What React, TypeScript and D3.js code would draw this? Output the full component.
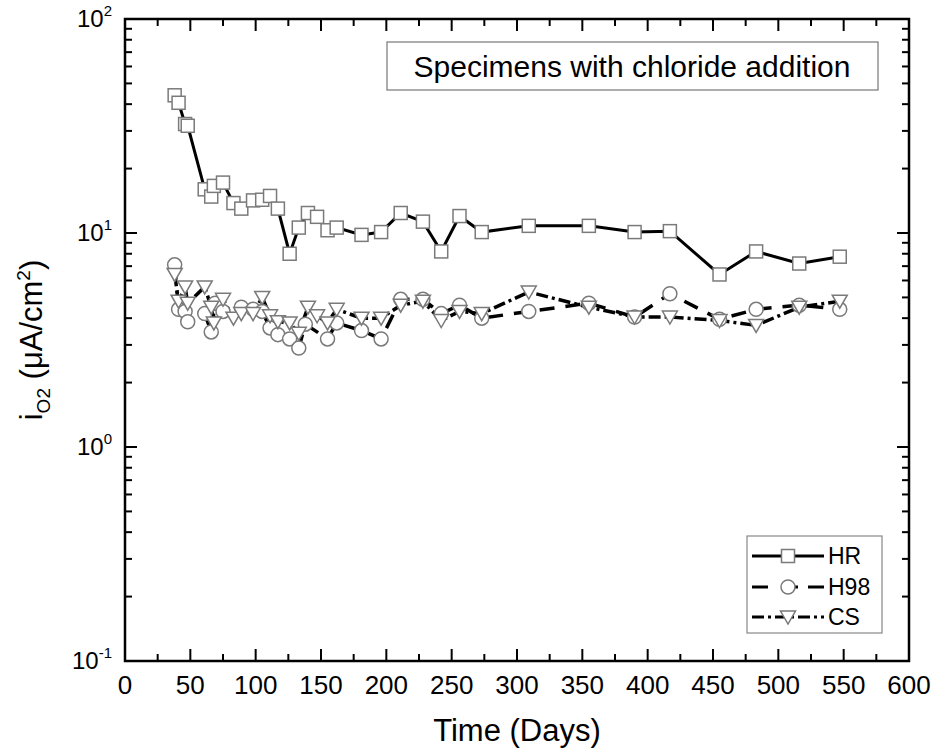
import React from 'react'
import * as d3 from 'd3'

// sampling days
const daysHR = [38, 41, 46, 48, 61, 66, 68, 75, 83, 89, 98, 105, 111, 117, 126, 133, 140, 147, 155, 162, 181, 196, 211, 228, 242, 256, 273, 309, 355, 390, 417, 455, 483, 516, 547]
const valuesHR = [44, 40.6, 32.3, 31.7, 16.0, 14.8, 16.6, 17.2, 13.8, 13.0, 14.2, 14.3, 14.9, 13.0, 8.0, 10.6, 12.4, 11.9, 10.3, 10.6, 9.8, 10.1, 12.4, 11.3, 8.2, 12.0, 10.1, 10.8, 10.8, 10.1, 10.2, 6.4, 8.2, 7.2, 7.75]

const daysH98 = [38, 41, 46, 48, 61, 66, 69, 75, 89, 98, 105, 111, 117, 126, 133, 138, 155, 162, 181, 196, 211, 228, 242, 256, 273, 309, 355, 390, 417, 455, 483, 516, 547]
const valuesH98 = [7.1, 4.4, 4.3, 3.85, 4.2, 3.45, 4.7, 4.3, 4.5, 4.4, 4.3, 3.6, 3.35, 3.2, 2.9, 3.75, 3.2, 3.8, 3.5, 3.2, 4.9, 4.9, 4.2, 4.6, 4.0, 4.3, 4.7, 4.05, 5.2, 3.95, 4.4, 4.6, 4.4]

const daysCS = [38, 41, 46, 48, 61, 66, 68, 75, 83, 89, 98, 105, 111, 117, 126, 133, 140, 147, 155, 162, 181, 196, 211, 228, 242, 256, 273, 309, 355, 390, 417, 455, 483, 516, 547]
const valuesCS = [6.4, 4.8, 5.6, 4.7, 5.6, 4.5, 3.8, 4.9, 4.0, 4.2, 4.2, 5.0, 4.1, 3.85, 3.8, 3.4, 4.5, 4.1, 3.8, 4.4, 4.0, 4.0, 4.6, 4.8, 3.9, 4.3, 4.2, 5.3, 4.5, 4.05, 4.05, 3.9, 3.7, 4.5, 4.8]

const xTicks = [0, 50, 100, 150, 200, 250, 300, 350, 400, 450, 500, 550, 600]
const yExponents = [-1, 0, 1, 2]
const seriesNames = ['HR', 'H98', 'CS']
const titleText = 'Specimens with chloride addition'

const left = 125, right = 909, top = 19, bottom = 661
const narrow = '"Liberation Sans Narrow", "Arial Narrow", sans-serif'
const regular = '"Liberation Sans", Arial, sans-serif'

const Marker = ({ kind, x, y }) => {
    const stroke = '#7a7a7a'
    if (kind === 'HR') return <rect x={x - 6.5} y={y - 6.5} width={13} height={13} fill="white" stroke={stroke} strokeWidth={1.5} />
    if (kind === 'H98') return <circle cx={x} cy={y} r={7} fill="white" stroke={stroke} strokeWidth={1.5} />
    return <path d={`M${x - 7.5},${y - 6} L${x + 7.5},${y - 6} L${x},${y + 7} Z`} fill="white" stroke={stroke} strokeWidth={1.5} />
}

const dashes = { HR: null, H98: '15,11', CS: '12,4,3,4' }
const legendDashes = { HR: null, H98: '16,18,12,10,18', CS: '12,4,3,4' }

export default function App() {
    const x = d3.scaleLinear().domain([0, 600]).range([left, right])
    const y = d3.scaleLog().domain([0.1, 100]).range([bottom, top])

    const line = d3.line().x(d => x(d[0])).y(d => y(d[1]))
    const series = [
        { name: 'HR', pts: daysHR.map((d, i) => [d, valuesHR[i]]) },
        { name: 'H98', pts: daysH98.map((d, i) => [d, valuesH98[i]]) },
        { name: 'CS', pts: daysCS.map((d, i) => [d, valuesCS[i]]) },
    ]

    // minor ticks for x (every 25) and y (2..9 per decade)
    const xMinor = d3.range(25, 600, 50)
    const yMinor = []
    for (let e = -1; e < 2; e++) for (let m = 2; m <= 9; m++) yMinor.push(m * Math.pow(10, e))

    const legendRows = [556, 587, 617]

    return (
        <svg width={934} height={755} style={{ position: 'absolute', left: 0, top: 0 }}>
            {/* ticks */}
            <g stroke="black" strokeWidth={2}>
                {xTicks.slice(1, -1).map(t => (
                    <g key={'xt' + t}>
                        <line x1={x(t)} x2={x(t)} y1={bottom} y2={bottom - 12} />
                        <line x1={x(t)} x2={x(t)} y1={top} y2={top + 12} />
                    </g>
                ))}
                {xMinor.map(t => (
                    <g key={'xm' + t}>
                        <line x1={x(t)} x2={x(t)} y1={bottom} y2={bottom - 7} />
                        <line x1={x(t)} x2={x(t)} y1={top} y2={top + 7} />
                    </g>
                ))}
                {yExponents.slice(1, -1).map(e => (
                    <g key={'yt' + e}>
                        <line x1={left} x2={left + 12} y1={y(Math.pow(10, e))} y2={y(Math.pow(10, e))} />
                        <line x1={right} x2={right - 12} y1={y(Math.pow(10, e))} y2={y(Math.pow(10, e))} />
                    </g>
                ))}
                {yMinor.map(v => (
                    <g key={'ym' + v}>
                        <line x1={left} x2={left + 7} y1={y(v)} y2={y(v)} />
                        <line x1={right} x2={right - 7} y1={y(v)} y2={y(v)} />
                    </g>
                ))}
            </g>
            <rect x={left} y={top} width={right - left} height={bottom - top} fill="none" stroke="black" strokeWidth={2.5} />

            {/* tick labels */}
            {xTicks.map(t => (
                <text key={'xl' + t} x={x(t)} y={bottom + 33} textAnchor="middle" fontFamily={narrow} fontSize={26}>{t}</text>
            ))}
            {yExponents.map(e => (
                <text key={'yl' + e} x={left - 13} y={y(Math.pow(10, e)) + 8} textAnchor="end" fontFamily={regular} fontSize={24}>
                    10<tspan dy={-11} fontSize={15}>{e}</tspan>
                </text>
            ))}

            {/* axis titles */}
            <text x={(left + right) / 2} y={bottom + 80} textAnchor="middle" fontFamily={narrow} fontSize={31}>Time (Days)</text>
            <text transform={`translate(42,${(top + bottom) / 2}) rotate(-90)`} textAnchor="middle" fontFamily={narrow} fontSize={31}>
                i<tspan dy={8} fontSize={19}>O2</tspan><tspan dy={-8}> (μA/cm</tspan><tspan dy={-12} fontSize={19}>2</tspan><tspan dy={12}>)</tspan>
            </text>

            {/* series */}
            {series.map(s => (
                <path key={s.name} d={line(s.pts)} fill="none" stroke="black" strokeWidth={s.name === 'HR' ? 3 : 3.5}
                    strokeDasharray={dashes[s.name] || undefined} />
            ))}
            {series.map(s => s.pts.map((p, i) => (
                <Marker key={s.name + i} kind={s.name} x={x(p[0])} y={y(p[1])} />
            )))}

            {/* title box */}
            <rect x={387} y={42} width={491} height={48} fill="white" stroke="#777" strokeWidth={1.2} />
            <text x={632} y={77} textAnchor="middle" fontFamily={regular} fontSize={30}>{titleText}</text>

            {/* legend */}
            <rect x={747} y={536} width={135} height={97} fill="white" stroke="#888" strokeWidth={1.2} />
            {seriesNames.map((n, i) => (
                <g key={'lg' + n}>
                    <line x1={752} x2={824} y1={legendRows[i]} y2={legendRows[i]} stroke="black" strokeWidth={3}
                        strokeDasharray={legendDashes[n] || undefined} />
                    <Marker kind={n} x={788} y={legendRows[i]} />
                    <text x={828} y={legendRows[i] + 8} fontFamily={regular} fontSize={23}>{n}</text>
                </g>
            ))}
        </svg>
    )
}
